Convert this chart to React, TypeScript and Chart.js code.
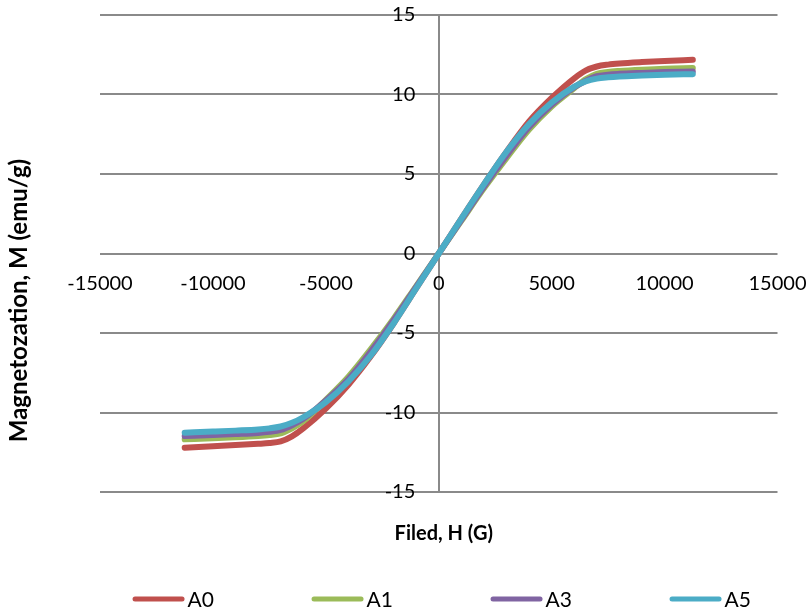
import { useEffect, useRef } from 'react';
import { Chart, registerables } from 'chart.js';

Chart.register(...registerables);

// Field values (G)
const fieldG = [
  -11250, -10000, -9000, -8000, -7500, -7000, -6500, -6000, -5000, -4000, -3000, -2000, -1000, 0,
  1000, 2000, 3000, 4000, 5000, 6000, 6500, 7000, 7500, 8000, 9000, 10000, 11250,
];

// Magnetization (emu/g) per sample
const seriesA0 = [
  -12.21, -12.12, -12.05, -11.97, -11.92, -11.82, -11.5, -11.0, -9.75, -8.25, -6.45, -4.4, -2.2, 0,
  2.2, 4.35, 6.4, 8.3, 9.78, 11.02, 11.5, 11.76, 11.88, 11.95, 12.04, 12.11, 12.18,
];
const seriesA1 = [
  -11.69, -11.62, -11.56, -11.48, -11.42, -11.32, -11.0, -10.55, -9.2, -7.75, -6.0, -4.1, -2.05, 0,
  2.05, 4.1, 6.0, 7.8, 9.25, 10.4, 10.95, 11.3, 11.42, 11.48, 11.56, 11.62, 11.66,
];
const seriesA3 = [
  -11.48, -11.42, -11.36, -11.29, -11.22, -11.1, -10.8, -10.4, -9.25, -7.9, -6.15, -4.2, -2.1, 0,
  2.1, 4.2, 6.15, 7.95, 9.35, 10.45, 10.85, 11.15, 11.25, 11.3, 11.36, 11.41, 11.45,
];
const seriesA5 = [
  -11.27, -11.2, -11.14, -11.07, -11.0, -10.88, -10.65, -10.3, -9.35, -8.05, -6.4, -4.4, -2.2, 0,
  2.2, 4.35, 6.4, 8.15, 9.5, 10.5, 10.82, 11.0, 11.08, 11.13, 11.19, 11.24, 11.28,
];

const seriesLabels = ['A0', 'A1', 'A3', 'A5'];
const seriesColors = ['#C0504D', '#9BBB59', '#8064A2', '#4BACC6'];
const seriesValues = [seriesA0, seriesA1, seriesA3, seriesA5];

const xTitle = 'Filed, H (G)';
const yTitle = 'Magnetozation, M (emu/g)';

const decorPlugin = {
  id: 'decor',
  afterDraw(chart: any) {
    const { ctx, chartArea } = chart;
    const cx = (chartArea.left + chartArea.right) / 2;
    const cy = (chartArea.top + chartArea.bottom) / 2;
    ctx.save();
    ctx.fillStyle = '#000';
    ctx.textAlign = 'center';
    ctx.textBaseline = 'alphabetic';
    ctx.font = 'bold 20px Lato';
    ctx.fillText(xTitle, cx + 5, chartArea.bottom + 48);
    ctx.save();
    ctx.translate(27, cy + 47);
    ctx.rotate(-Math.PI / 2);
    ctx.font = 'bold 24px Lato';
    ctx.fillText(yTitle, 0, 0);
    ctx.restore();

    // legend
    const lineLen = 52;
    const gap = 3;
    const step = 179;
    ctx.font = '21px Lato';
    ctx.textAlign = 'left';
    const datasets = chart.data.datasets;
    const lastW = ctx.measureText(datasets[datasets.length - 1].label).width;
    const total = step * (datasets.length - 1) + lineLen + gap + lastW;
    let x = cx + 3 - total / 2;
    const ly = chartArea.bottom + 107;
    datasets.forEach((ds: any) => {
      ctx.strokeStyle = ds.borderColor;
      ctx.lineWidth = 5;
      ctx.lineCap = 'round';
      ctx.beginPath();
      ctx.moveTo(x + 2.5, ly);
      ctx.lineTo(x + lineLen - 2.5, ly);
      ctx.stroke();
      ctx.fillText(ds.label, x + lineLen + gap, ly + 7.5);
      x += step;
    });
    ctx.restore();
  },
};

export default function App() {
  const canvasRef = useRef<HTMLCanvasElement | null>(null);

  useEffect(() => {
    document.body.style.margin = '0';
    const canvas = canvasRef.current;
    if (!canvas) return;
    const grey = '#8a8a8a';
    const chart = new Chart(canvas, {
      type: 'line',
      data: {
        datasets: seriesValues.map((vals, i) => ({
          label: seriesLabels[i],
          data: vals.map((v, j) => ({ x: fieldG[j], y: v })),
          borderColor: seriesColors[i],
          backgroundColor: seriesColors[i],
          borderWidth: 6,
          pointRadius: 0,
          pointHoverRadius: 0,
          cubicInterpolationMode: 'monotone',
          borderCapStyle: 'round',
          borderJoinStyle: 'round',
          fill: false,
          order: seriesValues.length - i,
        })),
      },
      options: {
        animation: false,
        responsive: false,
        devicePixelRatio: 1,
        layout: { padding: { left: 100, right: 33.5, top: 15, bottom: 123 } },
        plugins: {
          legend: { display: false },
          tooltip: { enabled: false },
        },
        scales: {
          x: {
            type: 'linear',
            min: -15000,
            max: 15000,
            position: { y: 0 },
            afterFit: (s: any) => {
              s.height = 0;
              s.paddingLeft = 0;
              s.paddingRight = 0;
              s.paddingTop = 0;
              s.paddingBottom = 0;
            },
            ticks: {
              stepSize: 5000,
              maxRotation: 0,
              autoSkip: false,
              padding: 18,
              color: '#000',
              font: { family: 'Lato', size: 20 },
              callback: (v: any) => String(v),
            },
            grid: {
              drawTicks: false,
              lineWidth: 2,
              color: (c: any) => (c.tick && c.tick.value === 0 ? grey : 'rgba(0,0,0,0)'),
            },
            border: { display: false },
          },
          y: {
            type: 'linear',
            min: -15,
            max: 15,
            position: { x: -1040 },
            afterFit: (s: any) => {
              s.width = 0;
              s.paddingLeft = 0;
              s.paddingRight = 0;
              s.paddingTop = 0;
              s.paddingBottom = 0;
            },
            ticks: {
              stepSize: 5,
              color: '#000',
              font: { family: 'Lato', size: 20 },
            },
            grid: {
              drawTicks: false,
              lineWidth: 2,
              color: grey,
            },
            border: { display: false },
          },
        },
      },
      plugins: [decorPlugin],
    } as any);
    return () => chart.destroy();
  }, []);

  return (
    <div style={{ width: 811, height: 615 }}>
      <canvas ref={canvasRef} width={811} height={615} style={{ display: 'block' }} />
    </div>
  );
}
